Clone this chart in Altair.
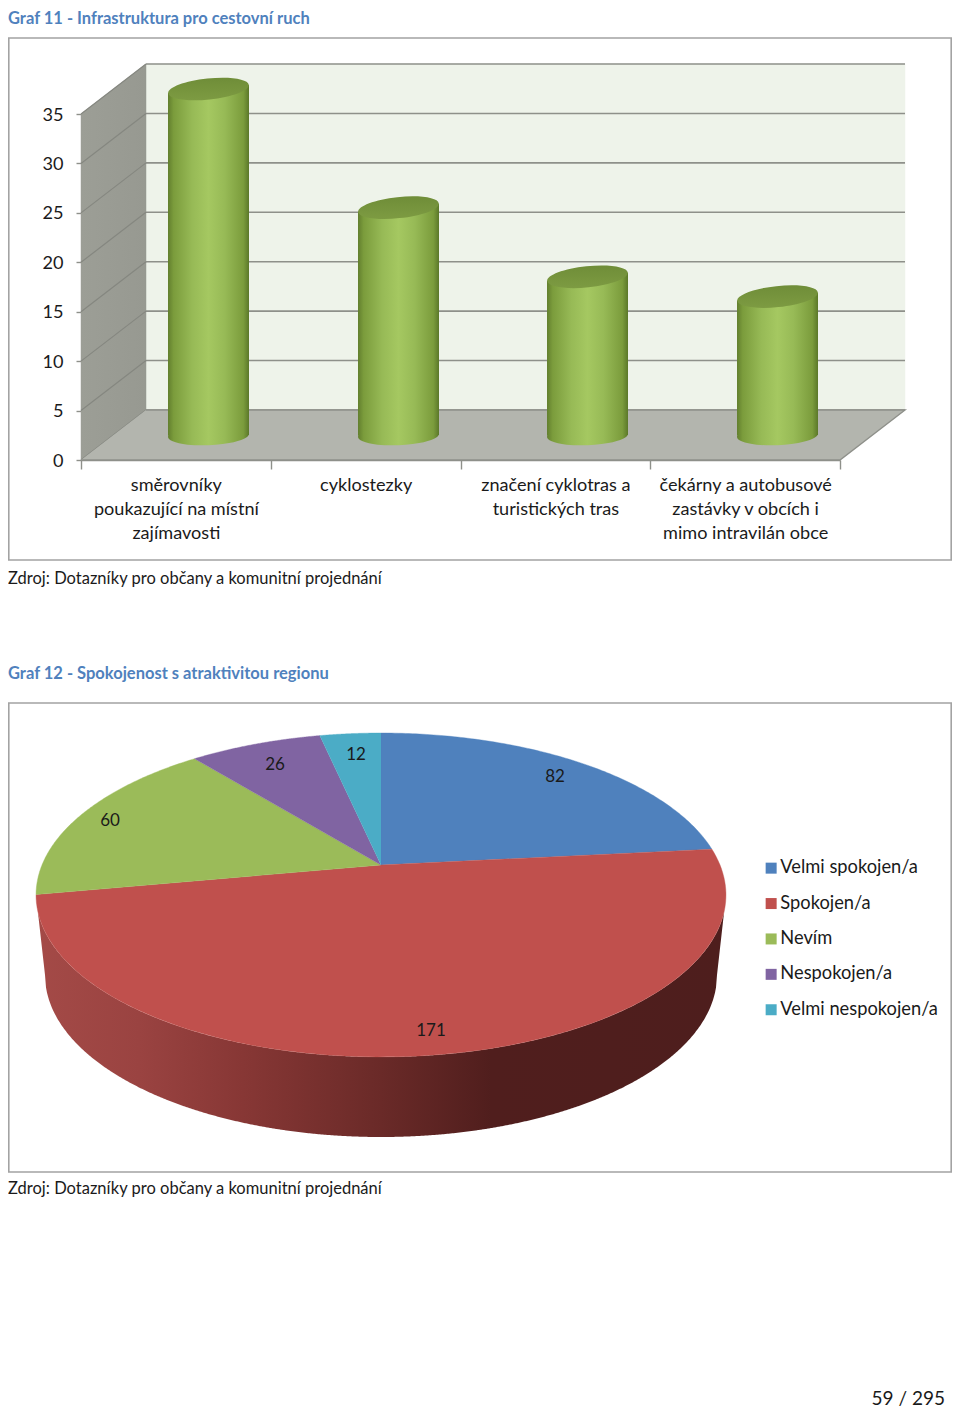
import math
import altair as alt
import pandas as pd

# ---- data ----
BAR_CATEGORIES = ["směrovníky|poukazující na místní|zajímavosti", "cyklostezky",
                  "značení cyklotras a|turistických tras", "čekárny a autobusové|zastávky v obcích i|mimo intravilán obce"]
BAR_VALUES = [35, 23, 16, 14]
AXIS_TICKS = [0, 5, 10, 15, 20, 25, 30, 35]
PIE_CATEGORIES = ["Velmi spokojen/a", "Spokojen/a", "Nevím", "Nespokojen/a", "Velmi nespokojen/a"]
PIE_VALUES = [82, 171, 60, 26, 12]
PIE_COLORS = ["#4f81bd", "#c0504d", "#9bbb59", "#8064a2", "#4bacc6"]

# ---- layout (page pixels) ----
FONT = "Lato"
W, H = 944, 1404
M = 8
TXT = "#1a1a1a"
FS = 16.5
CFS = 18.1


def grad(stops, x2=1, y2=0):
    return alt.LinearGradient(gradient="linear", x1=0, y1=0, x2=x2, y2=y2,
                              stops=[alt.GradientStop(offset=o, color=c) for o, c in stops])


def px(f="x"):
    return alt.X(f, type="quantitative", axis=None,
                 scale=alt.Scale(domain=[M, M + W], range=[0, W], nice=False, zero=False))


def py(f="y"):
    return alt.Y(f, type="quantitative", axis=None, stack=None,
                 scale=alt.Scale(domain=[M, M + H], range=[0, H], nice=False, zero=False))


def poly(points, color, stroke=None, sw=0.5):
    df = pd.DataFrame(points, columns=["x", "y"])
    df["i"] = range(len(df))
    return alt.Chart(df).mark_line(fill=color, stroke=stroke or "#b3b5ae", strokeWidth=sw).encode(
        x=px(), y=py(), order=alt.Order("i:Q"))


def text(rows, **kw):
    df = pd.DataFrame(rows, columns=["x", "y", "t"])
    args = dict(font=FONT, fontSize=FS, color=TXT, align="left", baseline="middle")
    args.update(kw)
    return alt.Chart(df).mark_text(**args).encode(x=px(), y=py(), text="t:N")


layers = []

# titles and captions
layers.append(text([(8, 19, "Graf 11 - Infrastruktura pro cestovní ruch"),
                    (8, 674, "Graf 12 - Spokojenost s atraktivitou regionu")],
                   fontWeight="bold", color="#4f81bd"))
layers.append(text([(8, 579, "Zdroj: Dotazníky pro občany a komunitní projednání"),
                    (8, 1189, "Zdroj: Dotazníky pro občany a komunitní projednání")]))
layers.append(text([(945, 1399, "59 / 295")], align="right", fontSize=19))

# frames
frames = pd.DataFrame({"x": [8.8, 8.8], "x2": [951.2, 951.2], "y": [38, 703], "y2": [560, 1172]})
layers.append(alt.Chart(frames).mark_rect(fillOpacity=0, stroke="#a3a3a3", strokeWidth=1.6).encode(
    x=px(), x2="x2:Q", y=py(), y2="y2:Q"))

# ---- 3-D column chart ----
FX0, FX1, BX0, BX1 = 81, 840, 146, 905
Y0F, Y35F = 460, 114
DEPTH_Y = 50
layers.append(poly([(BX0, Y35F - DEPTH_Y), (BX1, Y35F - DEPTH_Y), (BX1, Y0F - DEPTH_Y), (BX0, Y0F - DEPTH_Y)], "#eef3ea", stroke="#eef3ea"))
layers.append(poly([(FX0, Y35F), (BX0, Y35F - DEPTH_Y), (BX0, Y0F - DEPTH_Y), (FX0, Y0F)],
                   grad([(0, "#9c9e96"), (1, "#979991")]), stroke="#979991"))


def vscale(shift=0):
    return alt.Scale(domain=[0, 35], range=[Y0F - M - shift, Y35F - M - shift], nice=False, zero=False)


# back-wall grid lines, on the value scale
grid = pd.DataFrame({"v": AXIS_TICKS, "x": BX0, "x2": BX1})
layers.append(alt.Chart(grid).mark_rule(color="#8e908a", strokeWidth=1.6).encode(
    x=px(), x2="x2:Q", y=alt.Y("v:Q", scale=vscale(DEPTH_Y), axis=None)))
# side-wall grid lines
side = pd.DataFrame([{"v": v, "x": x, "d": d} for v in AXIS_TICKS for x, d in ((FX0, 0), (BX0, 1))])
layers.append(alt.Chart(side).transform_calculate(yy=f"datum.v + datum.d * {DEPTH_Y} * 35 / {Y0F - Y35F}").mark_line(
    color="#858780", strokeWidth=1.2).encode(
    x=px(), y=alt.Y("yy:Q", scale=alt.Scale(domain=[0, 40.058], range=[Y0F - M, Y35F - M - DEPTH_Y], nice=False, zero=False), axis=None), detail="v:N"))
# floor
layers.append(poly([(BX0, Y0F - DEPTH_Y), (BX1, Y0F - DEPTH_Y), (FX1, Y0F), (FX0, Y0F)], "#b3b5ae", stroke="#8e908a", sw=1.4))

# value axis
axis_df = pd.DataFrame({"v": AXIS_TICKS})
layers.append(alt.Chart(axis_df).mark_point(opacity=0).encode(
    y=alt.Y("v:Q", scale=vscale(), axis=alt.Axis(
        orient="left", offset=-(FX0 - M), values=AXIS_TICKS, title=None, grid=False, tickSize=5,
        tickColor="#8e908a", domainColor="#8e908a", labelPadding=13, labelFont=FONT, labelFontSize=CFS,
        labelColor=TXT, tickWidth=1.4, domainWidth=1.4, labelOffset=1))))
# category axis
cat_df = pd.DataFrame({"c": BAR_CATEGORIES})
layers.append(alt.Chart(cat_df).mark_point(opacity=0).encode(
    x=alt.X("c:N", sort=BAR_CATEGORIES,
            scale=alt.Scale(domain=BAR_CATEGORIES, range=[FX0 - M, FX1 - M], paddingInner=0, paddingOuter=0),
            axis=alt.Axis(orient="bottom", offset=-(M + H - Y0F), title=None, grid=False, tickBand="extent", tickSize=9,
                          tickColor="#8e908a", domainColor="#8e908a", labelAngle=0, labelPadding=7,
                          labelFont=FONT, labelFontSize=CFS, labelColor=TXT, labelLineHeight=24,
                          labelExpr="split(datum.label, '|')", labelOverlap=False, labelBound=False, labelFlush=False,
                          labelBaseline="top", labelAlign="center", tickWidth=1.4, domainWidth=1.4))))

# cylinders
CX = [208.5, 398.5, 587.5, 777.5]
BW = 81
cyl_grad = grad([(0, "#627f2e"), (0.07, "#7b9c3c"), (0.3, "#97ba56"), (0.5, "#a5c861"), (0.7, "#97ba56"), (0.93, "#7b9c3c"), (1, "#5b7829")])
cap_grad = grad([(0, "#6f8d38"), (1, "#7d9b42")], x2=0, y2=1)
SHIFT = 25
TILT = 0.4
TOP = "M-0.995,0.105A1,0.26,-6,1,1,0.995,-0.105A1,0.26,-6,1,1,-0.995,0.105Z"
BOTTOM = "M-0.998,0.04A1,0.24,-2.5,1,1,0.998,-0.04A1,0.24,-2.5,1,1,-0.998,0.04Z"
val_y = lambda f: alt.Y(f, type="quantitative", scale=vscale(SHIFT), axis=None, stack=None)
base = pd.DataFrame({"x": CX, "v": [0] * 4})
layers.append(alt.Chart(base).mark_point(shape=BOTTOM, size=BW * BW, filled=True, opacity=1, fill=cyl_grad, strokeWidth=0).encode(
    x=px(), y=val_y("v")))
for cx, v in zip(CX, BAR_VALUES):
    body = pd.DataFrame({"x": [cx - BW / 2, cx + BW / 2], "v": [v - TILT, v + TILT], "z": [0, 0]})
    layers.append(alt.Chart(body).mark_area(color=cyl_grad).encode(x=px(), y=val_y("v"), y2="z:Q"))
tops = pd.DataFrame({"x": CX, "v": BAR_VALUES})
layers.append(alt.Chart(tops).mark_point(shape=TOP, size=BW * BW, filled=True, opacity=1, fill=cap_grad, strokeWidth=0).encode(
    x=px(), y=val_y("v")))

# ---- perspective pie ----
CXP, CYP = 381, 865
K = 0.185
BP = 156.4
AP = 339


def proj(deg):
    t = math.radians(deg)
    u, v = math.sin(t), -math.cos(t)
    return CXP + AP * u / (1 - K * v), CYP + BP * v / (1 - K * v)


# side wall
EC, ER, EH = 895, 345, 162
LC, LR = 975, 336
side_rows = []
for x in range(36, 727):
    d = (x - CXP) / ER
    up = EC + EH * math.sqrt(max(0, 1 - d * d))
    d2 = (x - CXP) / LR
    if abs(d2) < 1:
        low = LC + EH * math.sqrt(1 - d2 * d2)
    else:
        low = EC + (LC - EC) * (CXP + ER - x if x > CXP else x - (CXP - ER)) / (ER - LR)
    side_rows.append((x, up, max(low, up)))
side_df = pd.DataFrame(side_rows, columns=["x", "y", "y2"])
side_grad = grad([(0, "#a44a47"), (0.15, "#9a4341"), (0.3, "#873735"), (0.5, "#6a2a28"), (0.66, "#501e1d"), (1, "#4e1e1d")])
layers.append(alt.Chart(side_df).mark_area(color=side_grad).encode(x=px(), y=py(), y2="y2:Q"))

# slices
rows = []
total = sum(PIE_VALUES)
a = 0
for cat, v in zip(PIE_CATEGORIES, PIE_VALUES):
    b = a + 360 * v / total
    pts = [(CXP, CYP)] + [proj(a + (b - a) * k / 120) for k in range(121)]
    for i, (x, y) in enumerate(pts):
        rows.append({"c": cat, "x": x, "y": y, "i": i})
    a = b
pie_df = pd.DataFrame(rows)
pie_scale = alt.Scale(domain=PIE_CATEGORIES, range=PIE_COLORS)
layers.append(alt.Chart(pie_df).mark_line(strokeWidth=0.4).encode(
    x=px(), y=py(), order=alt.Order("i:Q"),
    fill=alt.Fill("c:N", scale=pie_scale, sort=PIE_CATEGORIES, legend=alt.Legend(
        orient="none", legendX=762 - M, legendY=859 - M, title=None, symbolType="square", symbolSize=121,
        symbolStrokeWidth=0, labelFont=FONT, labelFontSize=18.3, labelColor=TXT, rowPadding=16.4, labelOffset=0)),
    stroke=alt.Stroke("c:N", scale=pie_scale, sort=PIE_CATEGORIES, legend=None)))

# data labels
LABEL_POS = [(555, 777), (431, 1031), (110, 821), (275, 765), (356, 755)]
layers.append(text([(x, y, str(v)) for (x, y), v in zip(LABEL_POS, PIE_VALUES)], align="center", fontSize=17))

chart = alt.layer(*layers).resolve_scale(x="independent", y="independent").properties(
    width=W, height=H, padding=0, autosize=alt.AutoSizeParams(type="none"), background="white"
).configure_view(stroke=None)

chart.save("out.html", embed_options={"renderer": "svg", "actions": False})
